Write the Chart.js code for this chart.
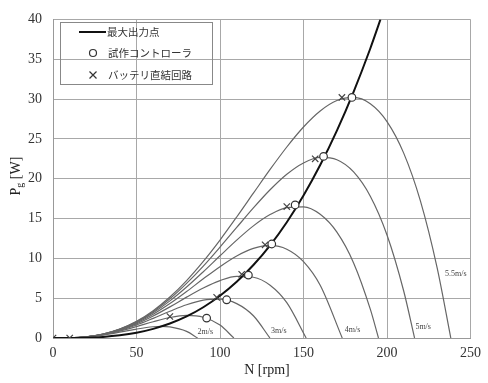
<!DOCTYPE html>
<html>
<head>
<meta charset="utf-8">
<script src="https://cdn.jsdelivr.net/npm/chart.js@4"></script>
<style>
    html, body { margin: 0; padding: 0; background: #fff; }
    #wrap { width: 488px; height: 383px; }
</style>
</head>
<body>
<div id="wrap"><canvas id="chart"></canvas></div>
<script>
// power curves per wind speed
const rpm20 = [0, 10, 20, 30, 40, 50, 60, 65, 70, 80, 86.6];
const pw20  = [0, 0.02, 0.13, 0.37, 0.73, 1.12, 1.41, 1.45, 1.39, 0.83, 0];
const rpm25 = [0, 10, 20, 30, 40, 50, 60, 70, 80, 90, 100, 108.3];
const pw25  = [0, 0.02, 0.14, 0.41, 0.86, 1.43, 2.04, 2.57, 2.83, 2.61, 1.62, 0];
const rpm30 = [0, 10, 20, 30, 40, 50, 60, 70, 80, 90, 100, 110, 120, 129.9];
const pw30  = [0, 0.02, 0.14, 0.44, 0.94, 1.63, 2.47, 3.35, 4.17, 4.75, 4.88, 4.32, 2.79, 0];
const rpm35 = [0, 10, 20, 30, 40, 50, 60, 70, 80, 90, 100, 110, 120, 130, 140, 151.6];
const pw35  = [0, 0.02, 0.15, 0.46, 1.00, 1.78, 2.77, 3.91, 5.13, 6.28, 7.21, 7.74, 7.63, 6.62, 4.43, 0];
const rpm40 = [0, 10, 20, 30, 40, 50, 60, 70, 80, 90, 100, 110, 120, 130, 140, 150, 160, 173.2];
const pw40  = [0, 0.02, 0.15, 0.47, 1.04, 1.89, 2.99, 4.33, 5.84, 7.43, 8.96, 10.30, 11.25, 11.62, 11.15, 9.59, 6.62, 0];
const rpm45 = [0, 10, 20, 30, 40, 50, 60, 70, 80, 90, 100, 110, 120, 130, 140, 150, 160, 170, 180, 190, 194.9];
const pw45  = [0, 0.02, 0.15, 0.48, 1.08, 1.97, 3.17, 4.66, 6.40, 8.32, 10.32, 12.29, 14.08, 15.50, 16.38, 16.47, 15.53, 13.29, 9.43, 3.62, 0];
const rpm50 = [0, 10, 20, 30, 40, 50, 60, 70, 80, 90, 100, 110, 120, 130, 140, 150, 160, 170, 180, 190, 200, 210, 216.5];
const pw50  = [0, 0.02, 0.15, 0.49, 1.11, 2.04, 3.31, 4.92, 6.85, 9.03, 11.41, 13.88, 16.33, 18.61, 20.56, 21.98, 22.67, 22.38, 20.85, 17.80, 12.93, 5.90, 0];
const rpm55 = [0, 10, 20, 30, 40, 50, 60, 70, 80, 90, 100, 110, 120, 130, 140, 150, 160, 170, 180, 190, 200, 210, 220, 230, 238.2];
const pw55  = [0, 0.02, 0.16, 0.50, 1.13, 2.09, 3.43, 5.14, 7.21, 9.62, 12.30, 15.19, 18.18, 21.16, 23.98, 26.49, 28.50, 29.81, 30.20, 29.41, 27.17, 23.21, 17.21, 8.83, 0];

// maximum power point curve
const rpmMax = [0, 10, 20, 30, 40, 50, 60, 70, 80, 90, 100, 110, 120, 130, 140, 150, 160, 170, 180, 190, 196.1];
const pwMax  = [0, 0.01, 0.04, 0.14, 0.34, 0.66, 1.15, 1.82, 2.71, 3.86, 5.30, 7.05, 9.16, 11.64, 14.54, 17.89, 21.71, 26.04, 30.91, 36.35, 40];

// measured points
const ctrlRpm = [92, 104, 117, 131, 145, 162, 179];
const ctrlPw  = [2.5, 4.8, 7.9, 11.8, 16.7, 22.8, 30.2];
const battRpm = [0, 10, 70, 98, 113, 127, 140, 157, 173];
const battPw  = [0, 0, 2.7, 5.1, 8.0, 11.7, 16.5, 22.5, 30.2];

const xTicks = [0, 50, 100, 150, 200, 250];
const yTicks = [0, 5, 10, 15, 20, 25, 30, 35, 40];
const legendNames = ['最大出力点', '試作コントローラ', 'バッテリ直結回路'];
const windNames = ['2m/s', '3m/s', '4m/s', '5m/s', '5.5m/s'];

const serif = '"Liberation Serif", "DejaVu Serif", serif';
const jp = '"Noto Sans CJK JP", sans-serif';

function pts(xs, ys) {
    return xs.map((x, i) => ({ x: x, y: ys[i] }));
}

const windCurves = [
    [rpm20, pw20], [rpm25, pw25], [rpm30, pw30], [rpm35, pw35],
    [rpm40, pw40], [rpm45, pw45], [rpm50, pw50], [rpm55, pw55]
];

const datasets = [];
datasets.push({
    data: pts(ctrlRpm, ctrlPw), showLine: false, order: 0,
    pointStyle: 'circle', pointRadius: 3.8, pointBackgroundColor: '#fff',
    pointBorderColor: '#333', pointBorderWidth: 1.2
});
datasets.push({
    data: pts(battRpm, battPw), showLine: false, order: 0,
    pointStyle: 'crossRot', pointRadius: 4.5,
    pointBorderColor: '#444', pointBorderWidth: 1.2
});
datasets.push({
    data: pts(rpmMax, pwMax), order: 1, borderColor: '#111', borderWidth: 2,
    pointRadius: 0, cubicInterpolationMode: 'monotone'
});
windCurves.forEach(c => {
    datasets.push({
        data: pts(c[0], c[1]), order: 2, borderColor: '#666', borderWidth: 1.2,
        pointRadius: 0, cubicInterpolationMode: 'monotone'
    });
});

// legend box, wind speed notes and axis titles
const decor = {
    id: 'decor',
    afterDraw(chart) {
        const ctx = chart.ctx;
        const xs = chart.scales.x, ys = chart.scales.y;
        ctx.save();

        // legend
        ctx.strokeStyle = '#888';
        ctx.lineWidth = 1;
        ctx.strokeRect(60.5, 22.5, 152, 62);
        ctx.strokeStyle = '#111';
        ctx.lineWidth = 2;
        ctx.beginPath(); ctx.moveTo(79, 32); ctx.lineTo(106, 32); ctx.stroke();
        ctx.strokeStyle = '#333';
        ctx.lineWidth = 1.2;
        ctx.beginPath(); ctx.arc(93, 53, 3.5, 0, Math.PI * 2); ctx.stroke();
        ctx.beginPath();
        ctx.moveTo(89.5, 71.5); ctx.lineTo(96.5, 78.5);
        ctx.moveTo(96.5, 71.5); ctx.lineTo(89.5, 78.5);
        ctx.stroke();
        ctx.fillStyle = '#333';
        ctx.font = '10.5px ' + jp;
        ctx.textBaseline = 'middle';
        ctx.textAlign = 'left';
        ctx.fillText(legendNames[0], 107, 32);
        ctx.fillText(legendNames[1], 108, 53);
        ctx.fillText(legendNames[2], 108, 75);

        // wind speed notes
        const notes = [[86.5, 0.8], [130.6, 0.9], [174.7, 1.0], [217, 1.4], [234.7, 8.1]];
        ctx.font = '8px ' + serif;
        ctx.fillStyle = '#444';
        notes.forEach((p, i) => {
            ctx.fillText(windNames[i], xs.getPixelForValue(p[0]), ys.getPixelForValue(p[1]));
        });

        // x title
        ctx.font = '14px ' + serif;
        ctx.fillStyle = '#222';
        ctx.textAlign = 'center';
        ctx.fillText('N [rpm]', 267, 370);

        // y title with subscript
        ctx.translate(15, 176);
        ctx.rotate(-Math.PI / 2);
        ctx.textAlign = 'left';
        ctx.textBaseline = 'alphabetic';
        const wP = ctx.measureText('P').width;
        ctx.font = '10px ' + serif;
        const wg = ctx.measureText('g').width;
        ctx.font = '14px ' + serif;
        const wW = ctx.measureText(' [W]').width;
        let x0 = -(wP + wg + wW) / 2;
        ctx.fillText('P', x0, 5);
        ctx.font = '10px ' + serif;
        ctx.fillText('g', x0 + wP, 8);
        ctx.font = '14px ' + serif;
        ctx.fillText(' [W]', x0 + wP + wg, 5);
        ctx.restore();
    }
};

new Chart(document.getElementById('chart'), {
    type: 'line',
    data: { datasets: datasets },
    options: {
        responsive: true,
        maintainAspectRatio: false,
        animation: false,
        devicePixelRatio: 1,
        layout: { padding: { top: 13, right: 10, left: 0, bottom: 0 } },
        plugins: { legend: { display: false }, tooltip: { enabled: false } },
        scales: {
            x: {
                type: 'linear', min: 0, max: 250,
                afterFit: s => { s.height = 45; },
                afterBuildTicks: s => { s.ticks = xTicks.map(v => ({ value: v })); },
                ticks: { padding: 7, color: '#333', font: { family: serif, size: 14 } },
                grid: { color: '#a8a8a8', drawTicks: false },
                border: { color: '#999' }
            },
            y: {
                type: 'linear', min: 0, max: 40,
                afterFit: s => { s.width = 53; },
                afterBuildTicks: s => { s.ticks = yTicks.map(v => ({ value: v })); },
                ticks: { padding: 11, color: '#333', font: { family: serif, size: 14 } },
                grid: { color: '#a8a8a8', drawTicks: false },
                border: { color: '#999' }
            }
        }
    },
    plugins: [decor]
});
</script>
</body>
</html>
